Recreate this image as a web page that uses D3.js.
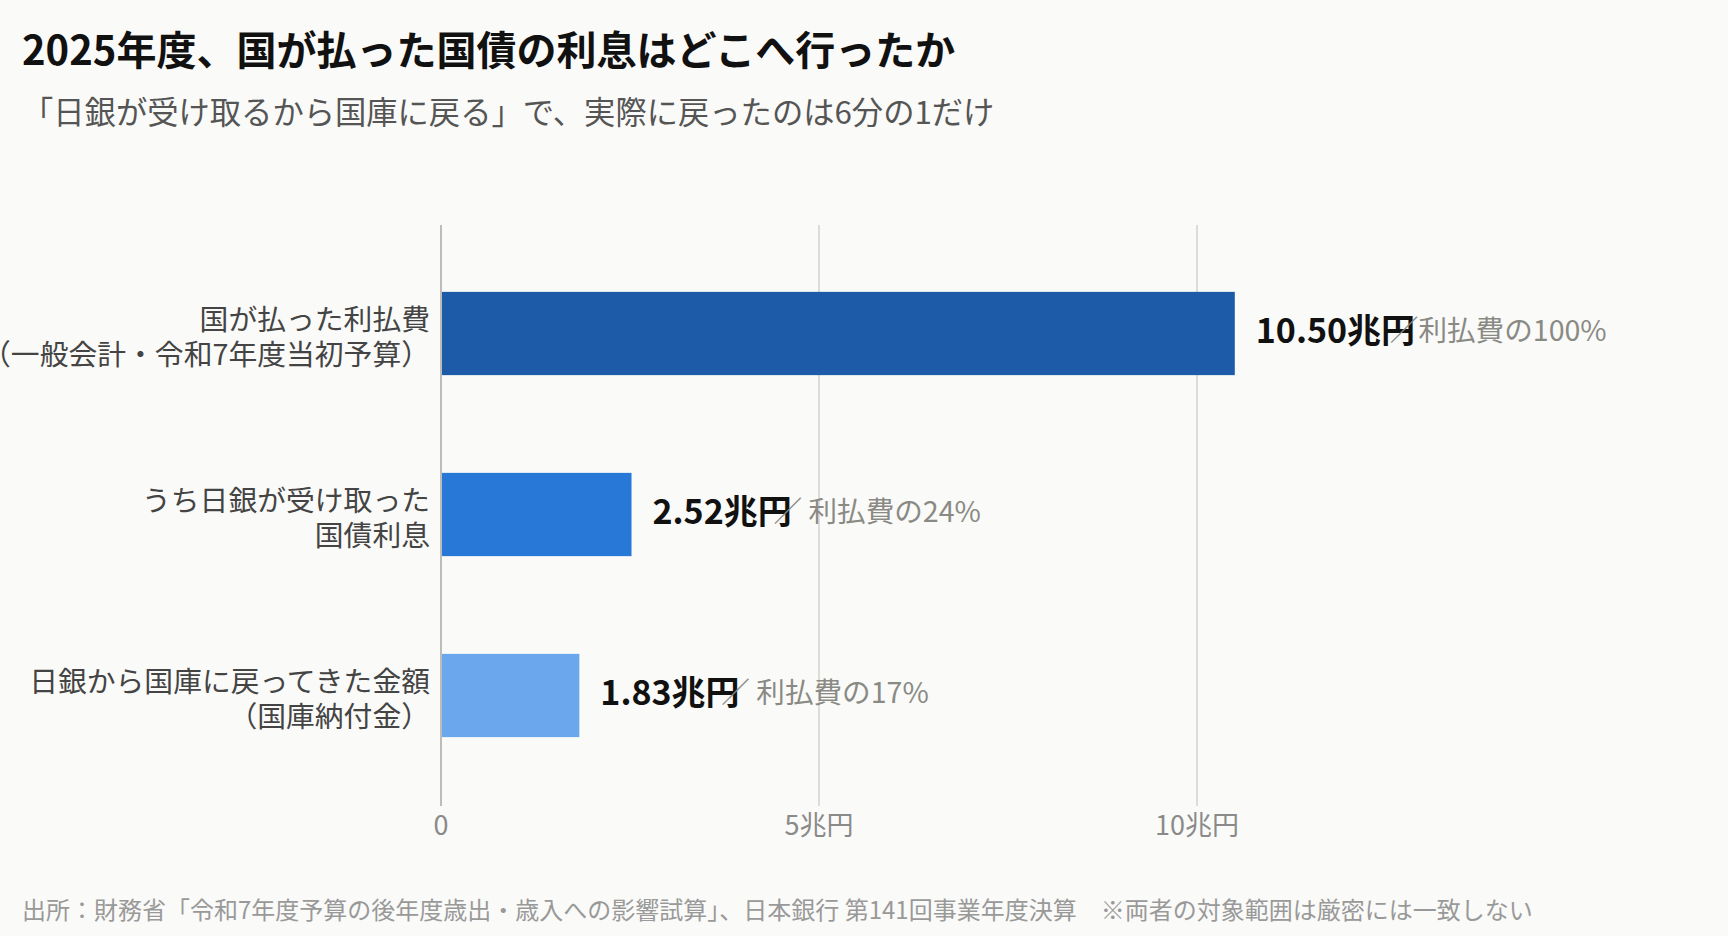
<!DOCTYPE html>
<html lang="ja">
<head>
<meta charset="utf-8">
<script src="https://cdn.jsdelivr.net/npm/d3@7/dist/d3.min.js"></script>
<style>
  html, body { margin: 0; padding: 0; background: #fafaf8; }
  svg { display: block; font-family: "Noto Sans CJK JP", "Noto Sans", sans-serif; }
</style>
</head>
<body>
<svg id="chart" width="1728" height="936"></svg>
<script>
// ---- data ----
const categories = [
  ["国が払った利払費", "（一般会計・令和7年度当初予算）"],
  ["うち日銀が受け取った", "国債利息"],
  ["日銀から国庫に戻ってきた金額", "（国庫納付金）"]
];
const values = [10.50, 2.52, 1.83];
const valueLabels = ["10.50兆円", "2.52兆円", "1.83兆円"];
const shareLabels = ["／利払費の100%", "／ 利払費の24%", "／ 利払費の17%"];
const barColors = ["#1d5ba8", "#2878d8", "#6ba7ec"];
const tickValues = [0, 5, 10];
const tickLabels = ["0", "5兆円", "10兆円"];

const title = "2025年度、国が払った国債の利息はどこへ行ったか";
const subtitle = "「日銀が受け取るから国庫に戻る」で、実際に戻ったのは6分の1だけ";
const footnote = "出所：財務省「令和7年度予算の後年度歳出・歳入への影響試算」、日本銀行 第141回事業年度決算　※両者の対象範囲は厳密には一致しない";

// ---- layout ----
const svg = d3.select("#chart");
const W = 1728, H = 936;
svg.append("rect").attr("width", W).attr("height", H).attr("fill", "#fafaf8");

const x = d3.scaleLinear().domain([0, 10]).range([441, 1197]);
const idx = d3.range(values.length);
const y = d3.scaleBand().domain(idx).range([243, 786]).paddingInner(0.54).paddingOuter(0.27);
const gridTop = 225, gridBottom = 806;

// title / subtitle
svg.append("text").attr("x", 22).attr("y", 54).attr("dominant-baseline", "middle")
  .attr("font-size", 40).attr("font-weight", 700).attr("fill", "#111").text(title);
svg.append("text").attr("x", 22).attr("y", 115).attr("dominant-baseline", "middle")
  .attr("font-size", 31.3).attr("fill", "#555").text(subtitle);

// gridlines
svg.append("g").selectAll("line").data(tickValues).join("line")
  .attr("x1", d => x(d)).attr("x2", d => x(d))
  .attr("y1", gridTop).attr("y2", gridBottom)
  .attr("stroke", d => d === 0 ? "#bdbcb6" : "#dddcd8")
  .attr("stroke-width", 2);

// tick labels
svg.append("g").selectAll("text").data(tickValues).join("text")
  .attr("x", d => x(d)).attr("y", 828)
  .attr("text-anchor", "middle").attr("dominant-baseline", "middle")
  .attr("font-size", 27).attr("fill", "#8a8a8a")
  .text((d, i) => tickLabels[i]);

// bars
svg.append("g").selectAll("rect").data(idx).join("rect")
  .attr("x", x(0) + 1)
  .attr("y", i => y(i))
  .attr("width", i => x(values[i]) - x(0) - 1)
  .attr("height", y.bandwidth())
  .attr("fill", i => barColors[i]);

// category labels
const cat = svg.append("g").selectAll("text").data(idx).join("text")
  .attr("x", 430)
  .attr("text-anchor", "end")
  .attr("font-size", 28.8).attr("fill", "#444");
cat.each(function(i) {
  const t = d3.select(this);
  const c = y(i) + y.bandwidth() / 2;
  categories[i].forEach((line, k) => {
    t.append("tspan").attr("x", 430).attr("y", c + (k === 0 ? -11 : 24))
      .attr("dominant-baseline", "middle").text(line);
  });
});

// value labels
idx.forEach(i => {
  const cy = y(i) + y.bandwidth() / 2;
  const vx = x(values[i]) + 21;
  svg.append("text").attr("x", vx).attr("y", cy)
    .attr("dominant-baseline", "middle")
    .attr("font-size", 34).attr("font-weight", 700).attr("fill", "#111")
    .text(valueLabels[i]);
  const off = valueLabels[i].length > 6 ? 134 : 121;
  svg.append("text").attr("x", vx + off).attr("y", cy)
    .attr("dominant-baseline", "middle")
    .attr("font-size", 28.6).attr("fill", "#8a8a85")
    .text(shareLabels[i]);
});

// footnote
svg.append("text").attr("x", 22).attr("y", 912).attr("dominant-baseline", "middle")
  .attr("font-size", 24).attr("fill", "#999").text(footnote);
</script>
</body>
</html>
